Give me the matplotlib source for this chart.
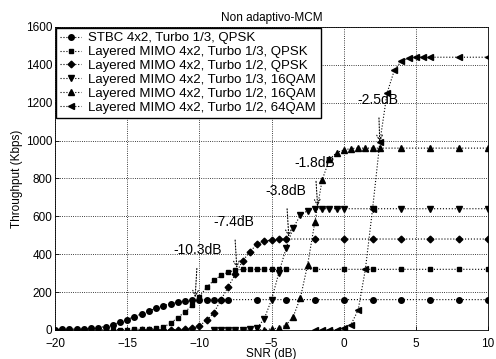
import numpy as np
import matplotlib
matplotlib.use("Agg")
import matplotlib.pyplot as plt

plt.rcParams["font.family"] = ["Liberation Sans", "DejaVu Sans"]

# STBC 4x2, Turbo 1/3, QPSK
snr_stbc = [-20, -19.5, -19, -18.5, -18, -17.5, -17, -16.5, -16, -15.5, -15,
            -14.5, -14, -13.5, -13, -12.5, -12, -11.5, -11, -10.5, -10,
            -9.5, -9, -8.5, -8, -6, -4, -2, 0, 2, 4, 6, 8, 10]
thr_stbc = [2, 3, 4, 5, 6, 8, 12, 18, 28, 40, 55,
            70, 85, 100, 115, 128, 138, 146, 152, 156, 158,
            160, 160, 160, 160, 160, 160, 160, 160, 160, 160, 160, 160, 160]

# Layered MIMO 4x2, Turbo 1/3, QPSK
snr_q13 = [-20, -19.5, -19, -18.5, -18, -17.5, -17, -16.5, -16, -15.5, -15,
           -14.5, -14, -13.5, -13, -12.5, -12, -11.5, -11, -10.5, -10,
           -9.5, -9, -8.5, -8, -7.5, -7, -6.5, -6, -5.5, -5, -4.5, -4,
           -2, 0, 2, 4, 6, 8, 10]
thr_q13 = [0, 0, 0, 0, 0, 0, 0, 1, 1, 2, 2,
           3, 4, 5, 8, 15, 35, 65, 95, 130, 175,
           225, 262, 288, 305, 316, 320, 320, 320, 320, 320, 320, 320,
           320, 320, 320, 320, 320, 320, 320]

# Layered MIMO 4x2, Turbo 1/2, QPSK
snr_q12 = [-14, -13.5, -13, -12.5, -12, -11.5, -11, -10.5, -10, -9.5, -9,
           -8.5, -8, -7.5, -7, -6.5, -6, -5.5, -5, -4.5, -4,
           -2, 0, 2, 4, 6, 8, 10]
thr_q12 = [0, 0, 0, 0, 1, 2, 3, 8, 22, 50, 90,
           160, 228, 295, 365, 412, 455, 468, 476, 480, 480,
           480, 480, 480, 480, 480, 480, 480]

# Layered MIMO 4x2, Turbo 1/3, 16QAM
snr_16q13 = [-9, -8.5, -8, -7.5, -7, -6.5, -6, -5.5, -5, -4.5, -4,
             -3.5, -3, -2.5, -2, -1.5, -1, -0.5, 0, 2, 4, 6, 8, 10]
thr_16q13 = [0, 0, 0, 1, 2, 4, 10, 60, 160, 300, 430,
             540, 605, 630, 640, 640, 640, 640, 640, 640, 640, 640, 640, 640]

# Layered MIMO 4x2, Turbo 1/2, 16QAM
snr_16q12 = [-6, -5.5, -5, -4.5, -4, -3.5, -3, -2.5, -2, -1.5, -1,
             -0.5, 0, 0.5, 1, 1.5, 2, 2.5, 4, 6, 8, 10]
thr_16q12 = [0, 2, 5, 10, 25, 70, 170, 345, 570, 790, 900,
             936, 950, 958, 960, 960, 960, 960, 960, 960, 960, 960]

# Layered MIMO 4x2, Turbo 1/2, 64QAM
snr_64q12 = [-2, -1.5, -1, -0.5, 0, 0.5, 1, 1.5, 2, 2.5, 3, 3.5, 4, 4.5,
             5, 5.5, 6, 8, 10]
thr_64q12 = [0, 0, 0, 2, 8, 28, 105, 320, 640, 990, 1250, 1370, 1420, 1435,
             1440, 1440, 1440, 1440, 1440]

labels = ["STBC 4x2, Turbo 1/3, QPSK",
          "Layered MIMO 4x2, Turbo 1/3, QPSK",
          "Layered MIMO 4x2, Turbo 1/2, QPSK",
          "Layered MIMO 4x2, Turbo 1/3, 16QAM",
          "Layered MIMO 4x2, Turbo 1/2, 16QAM",
          "Layered MIMO 4x2, Turbo 1/2, 64QAM"]

# annotations: text, point (snr, kbps), text position
notes = [("-10.3dB", (-10.3, 165), (-10.1, 420)),
         ("-7.4dB", (-7.4, 320), (-7.6, 570)),
         ("-3.8dB", (-3.8, 485), (-4.0, 735)),
         ("-1.8dB", (-1.8, 645), (-2.0, 880)),
         ("-2.5dB", (2.5, 985), (2.4, 1215))]

fig = plt.figure(figsize=(4.96, 3.59), dpi=100)
ax = fig.add_axes([0.111, 0.081, 0.873, 0.844])

series = [(snr_stbc, thr_stbc, "o", 4.0),
          (snr_q13, thr_q13, "s", 3.4),
          (snr_q12, thr_q12, "D", 3.4),
          (snr_16q13, thr_16q13, "v", 4.0),
          (snr_16q12, thr_16q12, "^", 4.0),
          (snr_64q12, thr_64q12, "<", 4.0)]

for (x, y, m, ms), lab in zip(series, labels):
    ax.plot(x, y, color="black", linestyle=":", linewidth=0.8,
            marker=m, markersize=ms, label=lab)

for txt, xy, xyt in notes:
    ax.annotate(txt, xy=xy, xytext=xyt, ha="center", va="center",
                fontsize=10,
                arrowprops=dict(arrowstyle="->", color="black",
                                linestyle=":", linewidth=0.8,
                                shrinkA=6, shrinkB=1))

ax.set_xlim(-20, 10)
ax.set_ylim(0, 1600)
ax.set_xticks(np.arange(-20, 11, 5))
ax.set_yticks(np.arange(0, 1601, 200))
ax.tick_params(direction="in", labelsize=8.5, length=3, width=0.6)
ax.tick_params(axis="x", pad=5.5)
ax.tick_params(axis="y", pad=2)
ax.grid(True, linestyle=":", color="black", linewidth=0.6)
for s in ax.spines.values():
    s.set_linewidth(0.6)

ax.set_title("Non adaptivo-MCM", fontsize=8.5, pad=4)
ax.set_xlabel("SNR (dB)", fontsize=8.5, labelpad=-1)
ax.set_ylabel("Throughput (Kbps)", fontsize=8.5, labelpad=2)

ax.legend(loc="upper left", fontsize=9.5, handlelength=1.6,
          labelspacing=0.12, borderpad=0.35, borderaxespad=0.05,
          handletextpad=0.5, fancybox=False, edgecolor="black",
          framealpha=1)

fig.savefig("out.png", dpi=100)
